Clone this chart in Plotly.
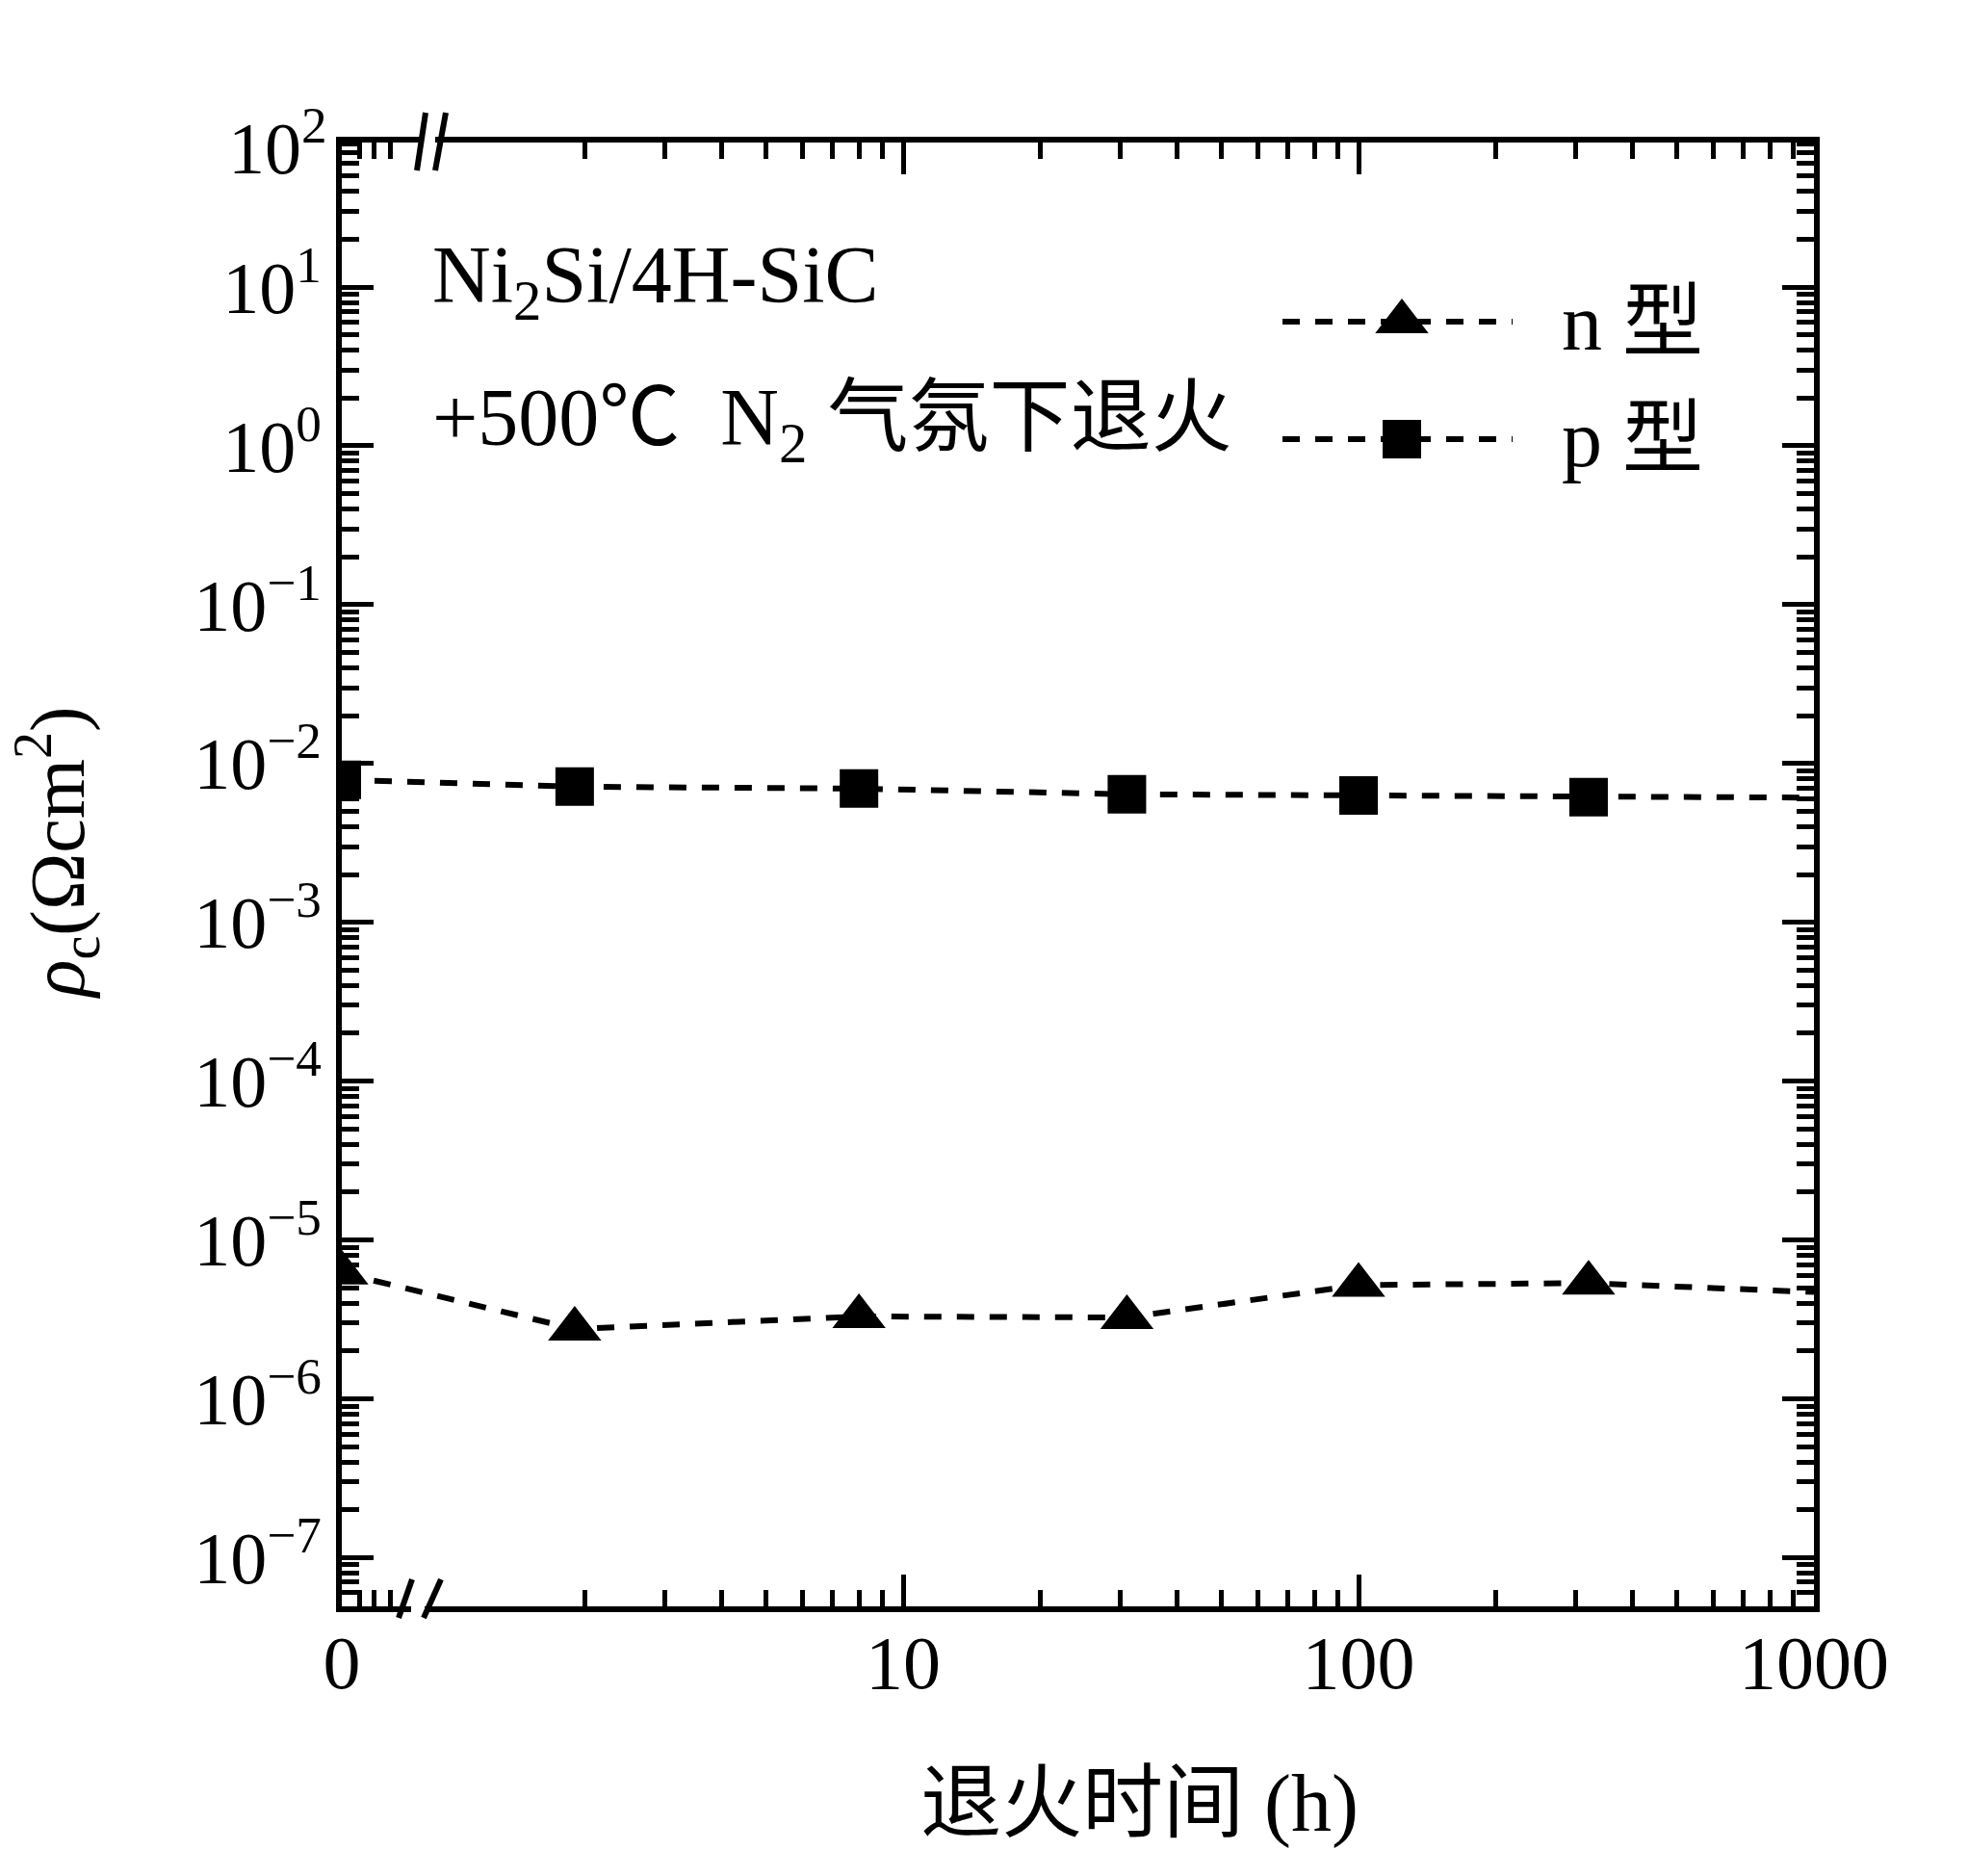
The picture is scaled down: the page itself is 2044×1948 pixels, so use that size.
import plotly.graph_objects as go

# ---------------- data ----------------
time_h = [0, 1.9, 8, 31, 100, 320, 1000]           # annealing time (h); 0 sits on the broken left edge
rho_n_type = [6.2e-6, 2.75e-6, 3.3e-6, 3.25e-6, 5.2e-6, 5.35e-6, 4.7e-6]
rho_p_type = [7.9e-3, 7.15e-3, 6.95e-3, 6.4e-3, 6.3e-3, 6.15e-3, 6.1e-3]
marker_shown = [1, 1, 1, 1, 1, 1, 0]                # last point: line end only

series_names = ["n 型", "p 型"]
x_tick_hours = [0, 10, 100, 1000]
x_tick_labels = ["0", "10", "100", "1000"]
y_tick_exponents = [1, 0, -1, -2, -3, -4, -5, -6, -7]
break_region_ticks = [0.64, 0.69, 0.75]

x_title = "退火时间 (h)"
y_title = "<i>ρ</i><sub>c</sub>(Ωcm<sup>2</sup>)"
note_line1 = "Ni<sub>2</sub>Si/4H-SiC"
note_line2 = "+500℃  N<sub>2</sub> 气氛下退火"

# ---------------- geometry / style ----------------
W, H = 2044, 1948
L, R, T, B = 355, 1884, 148, 1668
X_LOG_RANGE = [-0.2326, 3.0]
Y_LOG_RANGE = [-7.307, 1.91]
X_ZERO = 10 ** X_LOG_RANGE[0]

SERIF = "Liberation Serif, Noto Sans CJK SC, serif"
DASH = "18px,16px"
TRI, SQ = 48, 40


def px_x(px):
    return (px - L) / (R - L)


def px_y(py):
    return (B - py) / (B - T)


def xpos(t):
    return X_ZERO if t == 0 else t


x_plot = [xpos(t) for t in time_h]
tri_sizes = [TRI * m for m in marker_shown]
sq_sizes = [SQ * m for m in marker_shown]

fig = go.Figure()
fig.add_trace(go.Scatter(
    x=x_plot, y=rho_p_type, mode="lines+markers", name=series_names[1],
    line=dict(color="black", width=6, dash=DASH),
    marker=dict(symbol="square", size=sq_sizes, color="black", opacity=1, line=dict(width=0)),
    showlegend=False,
))
fig.add_trace(go.Scatter(
    x=x_plot, y=rho_n_type, mode="lines+markers", name=series_names[0],
    line=dict(color="black", width=6, dash=DASH),
    marker=dict(symbol="triangle-up", size=tri_sizes, color="black", opacity=1, line=dict(width=0)),
    showlegend=False,
))

# custom long-line legend samples on an overlay axis spanning the plot area [0,1]
legend_rows = [(series_names[0], "triangle-up", TRI, 334), (series_names[1], "square", SQ, 456)]
for name, sym, sz, py in legend_rows:
    fig.add_trace(go.Scatter(
        x=[px_x(1332), px_x(1456), px_x(1571)], y=[px_y(py)] * 3,
        xaxis="x2", yaxis="y2", mode="lines+markers", showlegend=False,
        line=dict(color="black", width=6, dash=DASH),
        marker=dict(symbol=sym, size=[0, sz, 0], color="black", opacity=1, line=dict(width=0)),
        cliponaxis=False, hoverinfo="skip",
    ))

# ticks
x_minor = list(break_region_ticks)
for d in [1, 10, 100]:
    x_minor += [m * d for m in range(2, 10)]
y_minor = []
for e in range(-8, 2):
    y_minor += [m * 10 ** e for m in range(2, 10)]


def sup(e):
    return "10<sup>" + str(e).replace("-", "−") + "</sup>"


fig.update_layout(
    width=W, height=H,
    margin=dict(l=L, r=W - R, t=T, b=H - B),
    paper_bgcolor="white", plot_bgcolor="white",
    font=dict(family=SERIF, color="black"),
    xaxis=dict(
        type="log", range=X_LOG_RANGE,
        tickmode="array", tickvals=[xpos(t) for t in x_tick_hours], ticktext=x_tick_labels,
        ticks="inside", ticklen=33, tickwidth=5, tickcolor="black",
        showline=True, linewidth=6, linecolor="black", mirror="ticks",
        showgrid=False, zeroline=False,
        tickfont=dict(family=SERIF, size=78), ticklabelstandoff=-15,
        minor=dict(tickmode="array", tickvals=x_minor, ticks="inside", ticklen=17,
                   tickwidth=5, tickcolor="black", showgrid=False),
    ),
    yaxis=dict(
        type="log", range=Y_LOG_RANGE,
        tickmode="array", tickvals=[10 ** e for e in y_tick_exponents],
        ticktext=[sup(e) for e in y_tick_exponents],
        ticks="inside", ticklen=33, tickwidth=5, tickcolor="black",
        showline=True, linewidth=6, linecolor="black", mirror="ticks",
        showgrid=False, zeroline=False,
        tickfont=dict(family=SERIF, size=76),
        minor=dict(tickmode="array", tickvals=y_minor, ticks="inside", ticklen=18,
                   tickwidth=5, tickcolor="black", showgrid=False),
    ),
    xaxis2=dict(overlaying="x", range=[0, 1], visible=False),
    yaxis2=dict(overlaying="y", range=[0, 1], visible=False),
)

ann = []
# 10^2 label at the top edge of the axis
ann.append(dict(xref="paper", yref="paper", x=px_x(342), y=1.0, xanchor="right", yanchor="middle",
                text=sup(2), showarrow=False, font=dict(family=SERIF, size=76)))
ann.append(dict(xref="paper", yref="paper", x=px_x(59), y=px_y(886), xanchor="center", yanchor="middle",
                text=y_title, textangle=-90, showarrow=False, font=dict(family=SERIF, size=80)))
ann.append(dict(xref="paper", yref="paper", x=px_x(1183), y=px_y(1873), xanchor="center", yanchor="middle",
                text=x_title, showarrow=False, font=dict(family=SERIF, size=84)))
ann.append(dict(xref="paper", yref="paper", x=px_x(447), y=px_y(292), xanchor="left", yanchor="middle",
                text=note_line1, showarrow=False, font=dict(family=SERIF, size=84)))
ann.append(dict(xref="paper", yref="paper", x=px_x(447), y=px_y(440), xanchor="left", yanchor="middle",
                text=note_line2, showarrow=False, font=dict(family=SERIF, size=84)))
for name, sym, sz, py in legend_rows:
    ann.append(dict(xref="paper", yref="paper", x=px_x(1620), y=px_y(py), xanchor="left", yanchor="middle",
                    text=name, showarrow=False, font=dict(family=SERIF, size=84)))
fig.update_layout(annotations=ann)

# axis-break marks (//) on top and bottom axes
shapes = []
for (x0, x1) in [(437, 452)]:
    shapes.append(dict(type="rect", xref="paper", yref="paper", x0=px_x(x0), x1=px_x(x1),
                       y0=px_y(T + 6), y1=px_y(T - 6), fillcolor="white", line=dict(width=0), layer="above"))
for (x0, x1) in [(427, 441)]:
    shapes.append(dict(type="rect", xref="paper", yref="paper", x0=px_x(x0), x1=px_x(x1),
                       y0=px_y(B + 6), y1=px_y(B - 6), fillcolor="white", line=dict(width=0), layer="above"))
for (xa, ya, xb, yb) in [(433, 177, 442, 117), (452, 177, 463, 117),
                         (414, 1680, 428, 1640), (440, 1680, 458, 1640)]:
    shapes.append(dict(type="line", xref="paper", yref="paper", x0=px_x(xa), y0=px_y(ya),
                       x1=px_x(xb), y1=px_y(yb), line=dict(color="black", width=6), layer="above"))
fig.update_layout(shapes=shapes)

fig.write_html("out.html")
